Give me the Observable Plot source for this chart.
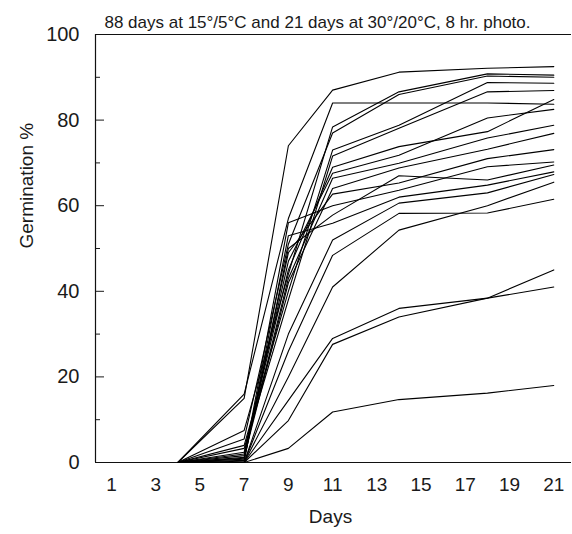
<!DOCTYPE html>
<html>
<head>
<meta charset="utf-8">
<script src="https://cdn.jsdelivr.net/npm/d3@7"></script>
<script src="https://cdn.jsdelivr.net/npm/@observablehq/plot@0.6"></script>
<style>
  html, body { margin: 0; padding: 0; background: #fff; }
  svg { font-family: "Liberation Sans", Arial, sans-serif; }
</style>
</head>
<body>
<div id="chart"></div>
<script>
// Observation days
const days = [4, 7, 9, 11, 14, 18, 21];

// Germination % per seed lot at each observation day
const s01 = [0, 15, 74, 87, 91.2, 92.1, 92.5];
const s02 = [0, 16, 57, 84, 84, 84, 83.7];
const s03 = [0, 7.5, 44, 78.4, 86.6, 90.8, 90.5];
const s04 = [0, 5.5, 51, 77, 86, 90.3, 90];
const s05 = [0, 4, 40, 73, 78.8, 88.8, 88.6];
const s06 = [0, 3.3, 38, 71.6, 78.1, 86.6, 86.9];
const s07 = [0, 2.4, 45, 69, 73.8, 77.3, 84.8];
const s08 = [0, 2, 47, 67.6, 71.8, 80.5, 82.5];
const s09 = [0, 1.6, 43, 66.4, 69.9, 75.8, 78.8];
const s10 = [0, 1.2, 42, 64, 68.8, 73.2, 76.9];
const s11 = [0, 1, 49, 62.7, 65.3, 71, 73.1];
const s12 = [0, 0.8, 56, 60, 63.6, 69.1, 70.2];
const s13 = [0, 0.5, 50, 57.8, 67, 66, 69.5];
const s14 = [0, 0.3, 53, 55.9, 62, 64.8, 67.9];
const s15 = [0, 0, 30, 52, 60.6, 63, 67.3];
const s16 = [0, 0, 26, 48.4, 58.2, 58.3, 61.5];
const s17 = [0, 0, 20, 41, 54.3, 60, 65.5];
const s18 = [0, 0, 14.5, 29, 36, 38.4, 41];
const s19 = [0, 0, 9.8, 27.6, 34, 38.4, 45];
const s20 = [0, 0, 3.3, 11.8, 14.7, 16.2, 18];
const series = [s01, s02, s03, s04, s05, s06, s07, s08, s09, s10,
                s11, s12, s13, s14, s15, s16, s17, s18, s19, s20];

// Axis ticks and texts
const xTicks = [1, 3, 5, 7, 9, 11, 13, 15, 17, 19, 21];
const yMajor = [0, 20, 40, 60, 80, 100];
const yMinor = [10, 30, 50, 70, 90];
const xDomain = [0.28, 21.8];
const title = "88 days at 15°/5°C and 21 days at 30°/20°C, 8 hr. photo.";
const xLabel = "Days";
const yLabel = "Germination %";

const rows = series.flatMap((vals, i) =>
  vals.map((v, j) => ({lot: i + 1, day: days[j], pct: v})));

const chart = Plot.plot({
  width: 572,
  height: 534,
  marginLeft: 95,
  marginRight: 1,
  marginTop: 34,
  marginBottom: 72,
  style: {fontSize: "19px", fontFamily: "'Liberation Sans', Arial, sans-serif", color: "#1a1a1a", background: "#fff"},
  x: {domain: xDomain},
  y: {domain: [0, 100]},
  marks: [
    Plot.axisX({ticks: xTicks, tickSize: 0, tickPadding: 15, label: null, fontSize: 19}),
    Plot.axisY({ticks: yMajor, tickSize: 0, tickPadding: 16, label: null, fontSize: 20}),
    Plot.axisY({ticks: yMajor, tickSize: 9, dx: 9, tickFormat: () => "", label: null}),
    Plot.axisY({ticks: yMinor, tickSize: 5, dx: 5, tickFormat: () => "", label: null}),
    Plot.ruleY([0, 100], {stroke: "#111", strokeWidth: 1.2}),
    Plot.ruleX([xDomain[0]], {stroke: "#111", strokeWidth: 1.2}),
    Plot.line(rows, {x: "day", y: "pct", z: "lot", stroke: "#000", strokeWidth: 1.1}),
    Plot.text([title], {frameAnchor: "top", dy: -19, dx: -16, fontSize: 17, fill: "#1a1a1a"}),
    Plot.text([xLabel], {frameAnchor: "bottom", dy: 60, dx: -3, fontSize: 19, fill: "#1a1a1a"}),
    Plot.text([yLabel], {frameAnchor: "left", dx: -69, rotate: -90, fontSize: 19, fill: "#1a1a1a"})
  ]
});
document.getElementById("chart").append(chart);
</script>
</body>
</html>
